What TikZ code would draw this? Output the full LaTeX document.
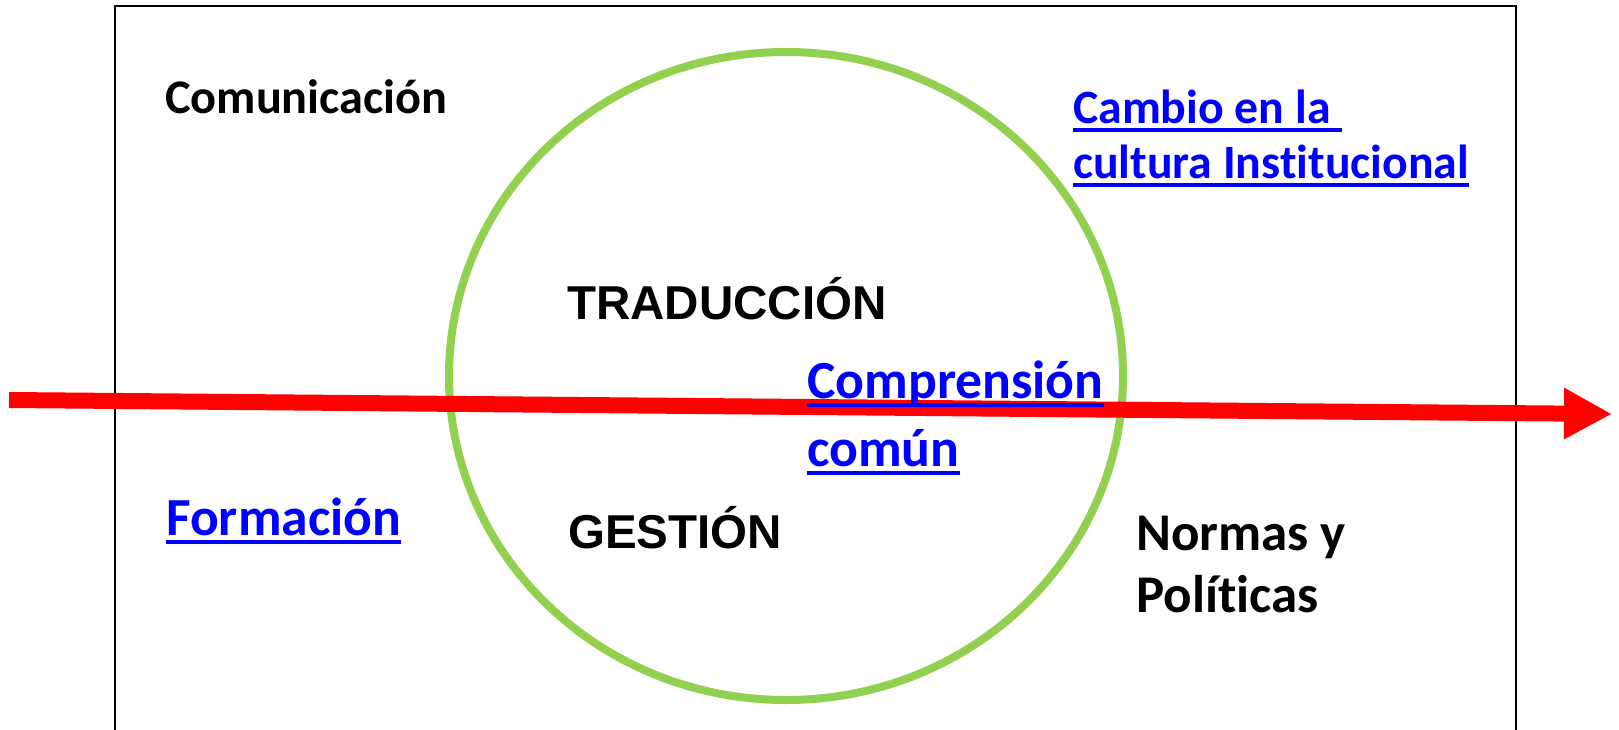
\documentclass[tikz,border=0pt]{standalone}
\usepackage{fontspec}
\setmainfont{Carlito}[Ligatures=NoCommon]
\newfontfamily\arialfont{Liberation Sans}
\usetikzlibrary{arrows.meta,shapes.geometric}
\definecolor{lgreen}{RGB}{146,208,80}
\definecolor{ublue}{RGB}{0,0,255}
\definecolor{ared}{RGB}{255,0,0}
\newcommand\myul[1]{\leavevmode\setbox0\hbox{#1}\rlap{\rule[-8.75pt]{\wd0}{3.5pt}}\box0}
\begin{document}
\begin{tikzpicture}[x=1pt,y=-1pt,
  frame/.style={draw=black, line width=2.5pt},
  ring/.style={draw=lgreen, line width=8pt},
  flow/.style={draw=ared, line width=16pt, -{Triangle[length=48pt,width=48pt]}},
  cal/.style={inner sep=0pt, anchor=base west, align=left, font=\bfseries},
  ari/.style={inner sep=0pt, anchor=base west, font=\arialfont\bfseries\fontsize{47.5}{55}\selectfont},
  link/.style={text=ublue}]
\useasboundingbox (0,0) rectangle (1619,729);
\clip (0,0) rectangle (1619,729);
\fill[white] (0,0) rectangle (1619,729);
\draw[frame] (115,6) rectangle (1516,780);
\node[ring, ellipse, minimum width=674pt, minimum height=648pt, inner sep=0pt] (c) at (786,376) {};
\coordinate (as) at (9,400);
\coordinate (ae) at (1612,414);
\draw[flow] (as) -- (ae);
\node[cal, font=\bfseries\fontsize{48.3}{55}\selectfont] (com) at (165,113) {Comunicación};
\node[cal, link, font=\bfseries\fontsize{47.8}{55}\selectfont] (cam) at (1073,178) {\myul{Cambio en la\ }\\\myul{cultura Institucional}};
\node[ari] (tra) at (567,319) {TRADUCCIÓN};
\node[ari] (ges) at (568,548) {GESTIÓN};
\node[cal, link, font=\bfseries\fontsize{53.7}{68}\selectfont] (cmp) at (807,466) {\myul{Comprensión}\\\myul{común}};
\node[cal, link, font=\bfseries\fontsize{53.6}{55}\selectfont] (for) at (166,535) {\myul{Formación}};
\node[cal, font=\bfseries\fontsize{53}{62}\selectfont] (nor) at (1136,612) {Normas y\\Políticas};
\end{tikzpicture}
\end{document}
